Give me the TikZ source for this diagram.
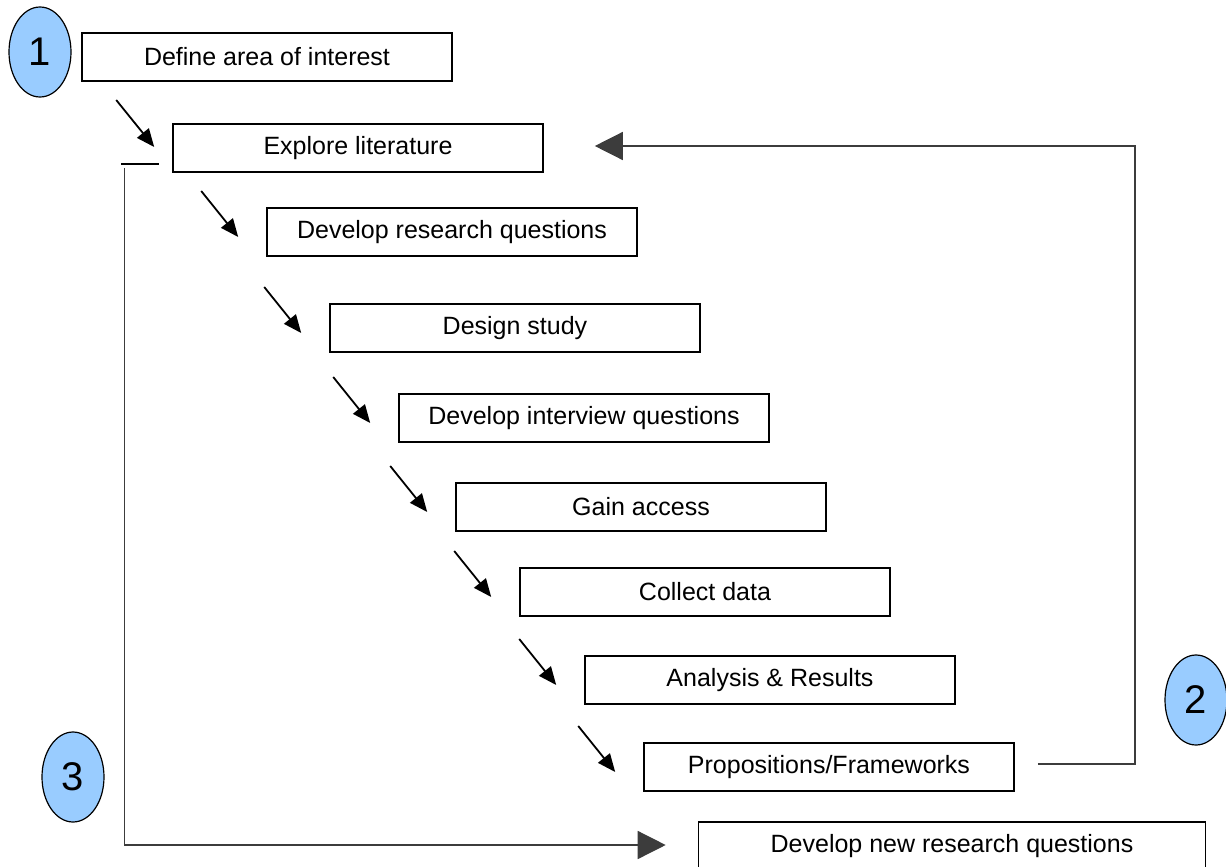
\documentclass[tikz,border=0pt]{standalone}
\usepackage{fontspec}
\setmainfont{Liberation Sans}
\usetikzlibrary{arrows.meta,shapes,positioning,calc}
\definecolor{bubbleblue}{RGB}{153,204,255}
\definecolor{loopgray}{RGB}{60,60,60}

\begin{document}
\begin{tikzpicture}[x=0.5pt,y=-0.5pt,
    stepbox/.style={draw, line width=0.8pt, minimum width=185pt, minimum height=24pt,
        inner sep=0pt, font=\fontsize{12.5}{15}\selectfont},
    bubble/.style={ellipse, draw, line width=0.6pt, fill=bubbleblue, minimum width=31pt,
        minimum height=45pt, inner sep=0pt, font=\fontsize{20}{24}\selectfont},
    stepto/.style={-{Triangle[length=9pt,width=7.5pt]}, line width=0.9pt},
    loopto/.style={-{Triangle[length=14pt,width=14pt]}, line width=0.7pt, loopgray}]
    \useasboundingbox (0,0) rectangle (1226,867);

    % Steps of the study
    \node[stepbox] (define)    at (267,57)  {Define area of interest};
    \node[stepbox] (explore)   at (358,148) {Explore literature};
    \node[stepbox] (drq)       at (452,232) {Develop research questions};
    \node[stepbox] (design)    at (515,328) {Design study};
    \node[stepbox] (interview) at (584,418) {Develop interview questions};
    \node[stepbox] (gain)      at (641,507) {Gain access};
    \node[stepbox] (collect)   at (705,592) {Collect data};
    \node[stepbox] (analysis)  at (770,680) {Analysis \& Results};
    \node[stepbox] (props)     at (829,767) {Propositions/Frameworks};
    \node[stepbox, minimum width=253.5pt] (newrq) at (952,846) {Develop new research questions};

    % Numbered bubbles
    \node[bubble] (one)   at (40,52)   {1};
    \node[bubble] (two)   at (1196,700) {2};
    \node[bubble] (three) at (73,777)  {3};

    % Arrows down the staircase
    \draw[stepto] ($(explore.west)+(-56,-48)$) -- ($(explore.west)+(-18,-1)$);
    \foreach \n in {drq,design,interview,gain,collect,analysis,props}
        \draw[stepto] ($(\n.west)+(-65,-41)$) -- ($(\n.west)+(-28,5)$);

    % Loop back to the literature
    \coordinate (propsout) at ($(props.east)+(23,-3)$);
    \coordinate (rcorner)  at (1135,146);
    \coordinate (loopin)   at ($(explore.east)+(51,-2)$);
    \draw[loopto] (propsout) -| (rcorner) -- (loopin);

    % Loop to new research questions
    \draw[line width=0.8pt] ($(explore.south west)+(-51,-9)$) -- ($(explore.south west)+(-13,-9)$);
    \coordinate (lstart) at ($(explore.south west)+(-48,-5)$);
    \coordinate (newin)  at ($(newrq.west)+(-32,-1)$);
    \draw[loopto] (lstart) |- (newin);
\end{tikzpicture}
\end{document}
